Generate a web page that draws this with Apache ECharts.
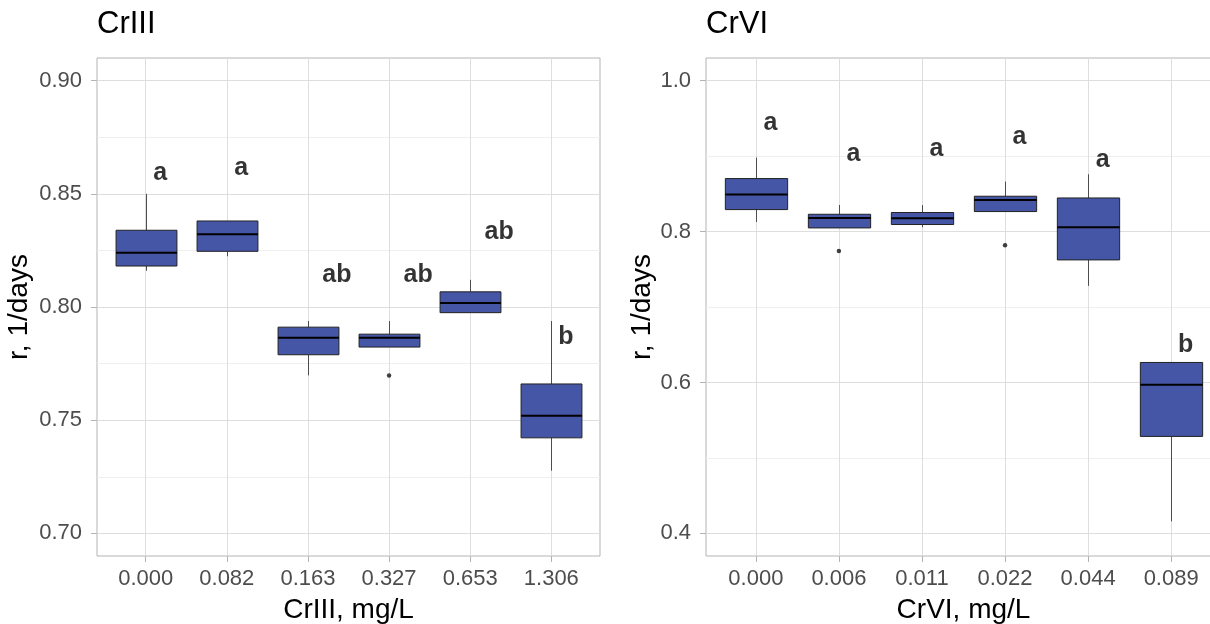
<!DOCTYPE html>
<html>
<head>
<meta charset="utf-8">
<script src="https://cdn.jsdelivr.net/npm/echarts@6/dist/echarts.min.js"></script>
<style>
html,body{margin:0;padding:0;background:#ffffff;}
#chart{width:1210px;height:624px;}
</style>
</head>
<body>
<div id="chart"></div>
<script>
// ---------- DATA ----------
// Panel 1: CrIII
const crIIICategories = ['0.000', '0.082', '0.163', '0.327', '0.653', '1.306'];
const crIIIMin    = [0.8160, 0.8224, 0.7698, 0.7823, 0.7975, 0.7277];
const crIIIQ1     = [0.8181, 0.8246, 0.7789, 0.7823, 0.7975, 0.7422];
const crIIIMedian = [0.8240, 0.8321, 0.7864, 0.7864, 0.8018, 0.7520];
const crIIIQ3     = [0.8339, 0.8380, 0.7911, 0.7880, 0.8067, 0.7660];
const crIIIMax    = [0.8500, 0.8380, 0.7938, 0.7938, 0.8120, 0.7938];
const crIIIOutlierCat = [4];
const crIIIOutlierVal = [0.7697];
const crIIILetters  = ['a', 'a', 'ab', 'ab', 'ab', 'b'];
const crIIILetterY  = [0.8605, 0.8628, 0.8155, 0.8155, 0.8345, 0.7879];
const crIIIYTicks   = [0.70, 0.75, 0.80, 0.85, 0.90];
const crIIIYMinor   = [0.725, 0.775, 0.825, 0.875];
const crIIIYRange   = [0.69, 0.91];

// Panel 2: CrVI
const crVICategories = ['0.000', '0.006', '0.011', '0.022', '0.044', '0.089'];
const crVIMin    = [0.8127, 0.8048, 0.8057, 0.8265, 0.7280, 0.4159];
const crVIQ1     = [0.8291, 0.8048, 0.8093, 0.8265, 0.7624, 0.5285];
const crVIMedian = [0.8490, 0.8180, 0.8176, 0.8419, 0.8057, 0.5968];
const crVIQ3     = [0.8702, 0.8229, 0.8252, 0.8468, 0.8445, 0.6265];
const crVIMax    = [0.8980, 0.8352, 0.8350, 0.8662, 0.8759, 0.6265];
const crVIOutlierCat = [2, 4];
const crVIOutlierVal = [0.7743, 0.7819];
const crVILetters  = ['a', 'a', 'a', 'a', 'a', 'b'];
const crVILetterY  = [0.9474, 0.9068, 0.9131, 0.9286, 0.8985, 0.653];
const crVIYTicks   = [0.4, 0.6, 0.8, 1.0];
const crVIYMinor   = [0.5, 0.7, 0.9];
const crVIYRange   = [0.37, 1.03];

const panelTitles = ['CrIII', 'CrVI'];
const xTitles = ['CrIII, mg/L', 'CrVI, mg/L'];
const yTitle = 'r, 1/days';

// ---------- STYLE ----------
const FONT = "'Liberation Sans', Arial, sans-serif";
const BOX_WIDTH = 0.75;
const BOX_FILL = '#4656A6';
const LETTER_SHIFT_PER_CHAR = 14.5;
const LETTER_DY = 3;

function boxRows(min, q1, med, q3, max) {
  return min.map((v, i) => [i + 1, v, q1[i], med[i], q3[i], max[i]]);
}
function outlierRows(cats, vals) {
  return cats.map((c, i) => [c, vals[i]]);
}
function letterRows(letters, ys) {
  return letters.map((t, i) => ({ name: t, value: [i + 1, ys[i]] }));
}

function renderBox(params, api) {
  const x = api.value(0);
  const lo = api.coord([x, api.value(1)]);
  const b1 = api.coord([x, api.value(2)]);
  const md = api.coord([x, api.value(3)]);
  const b3 = api.coord([x, api.value(4)]);
  const hi = api.coord([x, api.value(5)]);
  const w = api.size([BOX_WIDTH, 0])[0];
  const cx = Math.round(lo[0]) + 0.5;
  return {
    type: 'group',
    children: [
      { type: 'line', shape: { x1: cx, y1: hi[1], x2: cx, y2: b3[1] }, style: { stroke: '#4d4d4d', lineWidth: 1 } },
      { type: 'line', shape: { x1: cx, y1: b1[1], x2: cx, y2: lo[1] }, style: { stroke: '#4d4d4d', lineWidth: 1 } },
      { type: 'rect', shape: { x: cx - w / 2, y: b3[1], width: w, height: b1[1] - b3[1] },
        style: { fill: BOX_FILL, stroke: '#222222', lineWidth: 1 } },
      { type: 'line', shape: { x1: cx - w / 2, y1: md[1], x2: cx + w / 2, y2: md[1] }, style: { stroke: '#000000', lineWidth: 2 } }
    ]
  };
}

function xAxisCfg(gridIndex, cats, name) {
  const ticks = cats.map((c, i) => i + 1);
  return {
    type: 'value', gridIndex: gridIndex, min: 0.4, max: 6.6,
    name: name, nameLocation: 'middle', nameGap: 40,
    nameTextStyle: { fontSize: 28, color: '#000000', fontFamily: FONT },
    axisLine: { show: false },
    axisTick: { show: true, length: 6, lineStyle: { color: '#B3B3B3', width: 1 }, customValues: ticks },
    axisLabel: { customValues: ticks, formatter: v => cats[Math.round(v) - 1], fontSize: 22, color: '#4D4D4D', margin: 12, fontFamily: FONT },
    splitLine: { show: true, lineStyle: { color: '#DEDEDE', width: 1 } }
  };
}
function yAxisCfg(gridIndex, range, ticks, decimals, nameGap) {
  return {
    type: 'value', gridIndex: gridIndex, min: range[0], max: range[1], position: 'left',
    name: yTitle, nameLocation: 'middle', nameGap: nameGap,
    nameTextStyle: { fontSize: 28, color: '#000000', fontFamily: FONT },
    axisLine: { show: false },
    axisTick: { show: true, length: 6, lineStyle: { color: '#B3B3B3', width: 1 }, customValues: ticks },
    axisLabel: { customValues: ticks, formatter: v => v.toFixed(decimals), fontSize: 22, color: '#4D4D4D', margin: 15, fontFamily: FONT },
    splitLine: { show: true, lineStyle: { color: '#DEDEDE', width: 1 } }
  };
}
function yMinorCfg(gridIndex, range, minors) {
  return {
    type: 'value', gridIndex: gridIndex, min: range[0], max: range[1], position: 'right',
    axisLine: { show: false },
    axisTick: { show: false, customValues: minors },
    axisLabel: { show: false },
    splitLine: { show: true, lineStyle: { color: '#EFEFEF', width: 1 } }
  };
}

function panelSeries(xIdx, yIdx, boxes, outliers, letters) {
  return [
    { type: 'custom', xAxisIndex: xIdx, yAxisIndex: yIdx, data: boxes, renderItem: renderBox,
      encode: { x: 0, y: [1, 2, 3, 4, 5] }, silent: true, z: 3 },
    { type: 'scatter', xAxisIndex: xIdx, yAxisIndex: yIdx, data: outliers, symbolSize: 4.5,
      itemStyle: { color: '#111111' }, silent: true, z: 4 },
    { type: 'scatter', xAxisIndex: xIdx, yAxisIndex: yIdx, data: letters, symbolSize: 0, silent: true, z: 5,
      label: { show: true, position: 'inside', formatter: p => p.name,
        fontSize: 25, fontWeight: 'bold', color: '#000000', textBorderWidth: 0, fontFamily: FONT },
      labelLayout: p => ({ dx: LETTER_SHIFT_PER_CHAR * (p.text ? p.text.length : 1), dy: LETTER_DY })
    }
  ];
}

const chart = echarts.init(document.getElementById('chart'), null, { renderer: 'canvas' });

const option = {
  animation: false,
  backgroundColor: '#ffffff',
  title: [
    { text: panelTitles[0], left: 97, top: 9, padding: 0,
      textStyle: { fontSize: 31, fontWeight: 'normal', color: '#000000', fontFamily: FONT } },
    { text: panelTitles[1], left: 706, top: 9, padding: 0,
      textStyle: { fontSize: 31, fontWeight: 'normal', color: '#000000', fontFamily: FONT } }
  ],
  grid: [
    { left: 97, top: 58, width: 503, height: 498, show: true, borderColor: '#B3B3B3', borderWidth: 1,
      backgroundColor: 'transparent', containLabel: false, outerBoundsMode: 'none' },
    { left: 706, top: 58, width: 515, height: 498, show: true, borderColor: '#B3B3B3', borderWidth: 1,
      backgroundColor: 'transparent', containLabel: false, outerBoundsMode: 'none' }
  ],
  xAxis: [
    xAxisCfg(0, crIIICategories, xTitles[0]),
    xAxisCfg(1, crVICategories, xTitles[1])
  ],
  yAxis: [
    yAxisCfg(0, crIIIYRange, crIIIYTicks, 2, 64),
    yMinorCfg(0, crIIIYRange, crIIIYMinor),
    yAxisCfg(1, crVIYRange, crVIYTicks, 1, 50),
    yMinorCfg(1, crVIYRange, crVIYMinor)
  ],
  series: [].concat(
    panelSeries(0, 0,
      boxRows(crIIIMin, crIIIQ1, crIIIMedian, crIIIQ3, crIIIMax),
      outlierRows(crIIIOutlierCat, crIIIOutlierVal),
      letterRows(crIIILetters, crIIILetterY)),
    panelSeries(1, 2,
      boxRows(crVIMin, crVIQ1, crVIMedian, crVIQ3, crVIMax),
      outlierRows(crVIOutlierCat, crVIOutlierVal),
      letterRows(crVILetters, crVILetterY))
  )
};
chart.setOption(option);
</script>
</body>
</html>
